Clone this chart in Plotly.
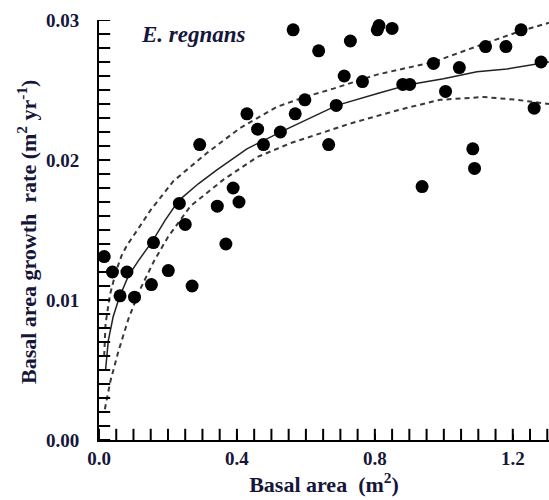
import plotly.graph_objects as go

# Observed trees (basal area m2, growth rate m2/yr)
basal_area = [0.563, 0.637, 0.729, 0.807, 0.812, 0.850, 1.224, 1.121, 1.180, 1.282,
              1.262, 0.970, 1.045, 1.005, 0.881, 0.901, 1.084, 1.089, 0.937, 0.711,
              0.764, 0.597, 0.688, 0.569, 0.666, 0.429, 0.460, 0.526, 0.477, 0.292,
              0.389, 0.406, 0.343, 0.233, 0.250, 0.158, 0.368, 0.015, 0.039, 0.081,
              0.061, 0.103, 0.152, 0.201, 0.270]
growth_rate = [0.0293, 0.0278, 0.0285, 0.0293, 0.0296, 0.0294, 0.0293, 0.0281, 0.0281, 0.0270,
               0.0237, 0.0269, 0.0266, 0.0249, 0.0254, 0.0254, 0.0208, 0.0194, 0.0181, 0.0260,
               0.0256, 0.0243, 0.0239, 0.0233, 0.0211, 0.0233, 0.0222, 0.0220, 0.0211, 0.0211,
               0.0180, 0.0170, 0.0167, 0.0169, 0.0154, 0.0141, 0.0140, 0.0131, 0.0120, 0.0120,
               0.0103, 0.0102, 0.0111, 0.0121, 0.0110]

# Fitted curve
fit_x = [0.019, 0.027, 0.041, 0.059, 0.085, 0.114, 0.155, 0.192, 0.231, 0.288, 0.342,
         0.429, 0.535, 0.641, 0.690, 0.815, 0.902, 0.999, 1.096, 1.183, 1.279, 1.305]
fit_y = [0.0050, 0.0071, 0.0088, 0.0102, 0.0117, 0.0128, 0.0142, 0.0157, 0.0171, 0.0183, 0.0193,
         0.0208, 0.0221, 0.0233, 0.0239, 0.0248, 0.0254, 0.0258, 0.0263, 0.0265, 0.0269, 0.0270]

# Upper confidence band
upper_x = [0.015, 0.019, 0.032, 0.050, 0.066, 0.081, 0.125, 0.149, 0.216, 0.313, 0.410,
           0.516, 0.597, 0.680, 0.806, 0.970, 1.105, 1.221, 1.305]
upper_y = [0.0060, 0.0083, 0.0104, 0.0121, 0.0132, 0.0139, 0.0155, 0.0164, 0.0185, 0.0205, 0.0223,
           0.0238, 0.0245, 0.0251, 0.0261, 0.0270, 0.0282, 0.0292, 0.0298]

# Lower confidence band
lower_x = [0.017, 0.033, 0.057, 0.086, 0.120, 0.160, 0.200, 0.265, 0.361, 0.458, 0.555,
           0.641, 0.728, 0.873, 0.989, 1.115, 1.212, 1.305]
lower_y = [0.0022, 0.0042, 0.0064, 0.0087, 0.0108, 0.0128, 0.0145, 0.0167, 0.0186, 0.0202, 0.0212,
           0.0219, 0.0226, 0.0236, 0.0243, 0.0245, 0.0243, 0.0240]

x_tick_vals = [0.0, 0.4, 0.8, 1.2]
x_tick_text = ["0.0", "0.4", "0.8", "1.2"]
y_tick_vals = [0.00, 0.01, 0.02, 0.03]
y_tick_text = ["0.00", "0.01", "0.02", "0.03"]
x_minor_step = 0.05
y_minor_step = 0.001

species_label = "E. regnans"
x_title = "Basal area\u00a0 (m<sup>2</sup>)"
y_title = "Basal area growth\u00a0 rate (m<sup>2</sup> yr<sup>-1</sup>)"

X_RANGE = [0, 1.305]
Y_RANGE = [0, 0.03]

TXT = "#16163a"
FONT = "Liberation Serif, Times New Roman, serif"

# minor tick positions along each axis (inward tick marks)
x_minor = [round(i * x_minor_step, 4) for i in range(int(X_RANGE[1] / x_minor_step) + 1)]
y_minor = [round(i * y_minor_step, 5) for i in range(int(round(Y_RANGE[1] / y_minor_step)) + 1)]

fig = go.Figure()
fig.add_trace(go.Scatter(x=upper_x, y=upper_y, mode="lines",
                         line=dict(color="#383838", width=2, dash="5px,4px"), hoverinfo="skip"))
fig.add_trace(go.Scatter(x=lower_x, y=lower_y, mode="lines",
                         line=dict(color="#383838", width=2, dash="5px,4px"), hoverinfo="skip"))
fig.add_trace(go.Scatter(x=fit_x, y=fit_y, mode="lines",
                         line=dict(color="#222222", width=1.5), hoverinfo="skip"))
# inward ticks (half of each marker is clipped away by the plot area)
fig.add_trace(go.Scatter(x=[X_RANGE[0]] * len(y_minor), y=y_minor, mode="markers",
                         marker=dict(symbol="line-ew", size=16, color="black",
                                     line=dict(width=2, color="black")),
                         cliponaxis=True, hoverinfo="skip"))
fig.add_trace(go.Scatter(x=x_minor, y=[Y_RANGE[0]] * len(x_minor), mode="markers",
                         marker=dict(symbol="line-ns", size=16, color="black",
                                     line=dict(width=2, color="black")),
                         cliponaxis=True, hoverinfo="skip"))
fig.add_trace(go.Scatter(x=basal_area, y=growth_rate, mode="markers",
                         marker=dict(color="black", size=13, line=dict(width=0)),
                         cliponaxis=False))

fig.update_layout(
    width=549, height=500,
    margin=dict(l=99, r=0, t=20, b=60),
    paper_bgcolor="white", plot_bgcolor="white",
    showlegend=False,
    font=dict(family=FONT, color=TXT),
    xaxis=dict(range=X_RANGE, showgrid=False, zeroline=False,
               showline=True, linecolor="black", linewidth=2,
               ticks="inside", ticklen=6, tickwidth=2, tickcolor="black",
               tickmode="array", tickvals=x_tick_vals,
               ticktext=["<b>" + t + "</b>" for t in x_tick_text],
               tickfont=dict(family=FONT, size=19, color=TXT),
               title=dict(text="<b>" + x_title + "</b>", font=dict(family=FONT, size=22, color=TXT), standoff=2)),
    yaxis=dict(range=Y_RANGE, showgrid=False, zeroline=False,
               showline=True, linecolor="black", linewidth=2,
               ticks="inside", ticklen=6, tickwidth=2, tickcolor="black",
               tickmode="array", tickvals=y_tick_vals,
               ticktext=["<b>" + t + "</b>" for t in y_tick_text],
               tickfont=dict(family=FONT, size=19, color=TXT),
               ticklabelstandoff=14),
    annotations=[
        dict(text="<b><i>" + species_label + "</i></b>", xref="paper", yref="paper",
             x=(139 - 99) / 450, y=(440 - 35) / 420, xanchor="left", yanchor="middle",
             showarrow=False, font=dict(family=FONT, size=23, color=TXT)),
        dict(text="<b>" + y_title + "</b>", xref="paper", yref="paper",
             x=(27 - 99) / 450, y=(440 - 232) / 420, xanchor="center", yanchor="middle",
             textangle=-90, showarrow=False, font=dict(family=FONT, size=22, color=TXT)),
    ],
)

fig.write_html("out.html")
